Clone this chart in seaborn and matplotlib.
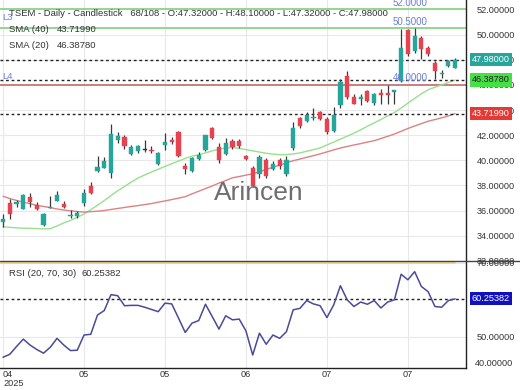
import numpy as np
import pandas as pd
import seaborn as sns
import matplotlib.pyplot as plt

# daily bars (68 visible of 108)
opens = [35.10, 36.59, 36.51, 36.14, 37.11, 36.41, 34.84, 36.22, 36.80, 36.49,
         35.58, 35.55, 36.59, 37.98, 39.15, 39.41, 39.02, 41.63, 41.84, 40.51,
         40.72, 40.85, 40.85, 39.73, 41.19, 41.63, 42.29, 39.55, 39.15, 40.14,
         40.80, 42.60, 41.06, 40.51, 41.55, 41.55, 40.33, 39.41, 38.94, 40.06,
         39.28, 40.06, 38.89, 40.98, 43.33, 43.12, 43.37, 43.86, 43.28, 42.34,
         44.40, 46.73, 45.04, 44.90, 45.51, 44.56, 45.35, 45.33, 45.43, 46.34,
         50.39, 48.69, 49.74, 48.90, 47.70, 46.85, 47.51, 47.32]
highs = [35.70, 36.93, 36.85, 37.30, 37.37, 36.67, 35.80, 37.20, 37.53, 36.74,
         36.02, 35.96, 37.71, 38.29, 40.33, 40.25, 42.86, 42.29, 42.02, 41.24,
         41.24, 41.63, 41.11, 40.65, 42.16, 41.82, 42.35, 39.80, 40.25, 40.64,
         42.05, 42.68, 41.37, 41.76, 41.71, 41.71, 40.46, 39.57, 40.41, 40.20,
         39.96, 40.22, 40.33, 43.02, 43.45, 43.86, 44.17, 43.90, 43.47, 44.25,
         46.45, 47.07, 45.29, 45.29, 45.60, 45.35, 45.69, 46.02, 45.60, 50.45,
         50.45, 50.50, 49.87, 49.08, 47.90, 47.18, 48.00, 48.10]
lows = [34.70, 35.36, 36.27, 36.10, 36.27, 36.02, 34.80, 36.20, 36.74, 36.22,
        35.44, 35.41, 36.33, 37.32, 39.10, 39.36, 38.57, 41.37, 40.93, 40.45,
        40.59, 40.67, 40.59, 39.65, 40.85, 41.29, 40.30, 38.94, 39.10, 40.04,
        40.72, 41.71, 39.80, 40.45, 40.93, 40.98, 40.06, 37.85, 38.63, 38.60,
        39.20, 39.30, 38.76, 40.85, 42.60, 43.02, 43.20, 43.20, 42.08, 42.29,
        44.20, 44.90, 44.45, 44.38, 44.65, 44.36, 44.45, 44.45, 44.50, 46.21,
        48.30, 48.50, 48.04, 48.30, 46.47, 46.55, 47.45, 47.32]
closes = [35.35, 35.70, 36.67, 37.27, 36.67, 36.10, 35.75, 36.30, 37.27, 36.27,
          35.67, 35.83, 37.37, 37.37, 39.47, 39.98, 42.08, 41.90, 41.11, 41.04,
          41.11, 40.85, 40.72, 40.59, 41.45, 41.43, 40.38, 39.33, 40.20, 40.45,
          42.02, 41.76, 40.06, 41.37, 41.04, 41.11, 40.14, 37.98, 40.25, 38.76,
          39.73, 39.55, 40.06, 42.55, 42.73, 43.59, 43.47, 43.28, 42.29, 43.59,
          46.24, 45.04, 44.51, 45.04, 44.72, 45.24, 45.16, 45.22, 45.56, 48.96,
          48.49, 49.87, 48.82, 48.49, 47.07, 46.95, 47.90, 47.98]

sma20 = [34.71, 34.67, 34.63, 34.60, 34.59, 34.57, 34.55, 34.56, 34.78, 35.02,
         35.22, 35.47, 35.73, 36.07, 36.43, 36.80, 37.19, 37.58, 37.92, 38.27,
         38.59, 38.84, 39.07, 39.29, 39.52, 39.73, 39.94, 40.15, 40.33, 40.44,
         40.59, 40.75, 40.88, 40.98, 41.02, 40.95, 40.85, 40.75, 40.66, 40.56,
         40.49, 40.45, 40.45, 40.51, 40.59, 40.72, 40.85, 40.99, 41.22, 41.45,
         41.69, 41.92, 42.16, 42.42, 42.71, 42.98, 43.25, 43.53, 43.80, 44.16,
         44.55, 44.92, 45.29, 45.61, 45.81, 46.00, 46.19, 46.3878]
sma40 = [37.14, 36.96, 36.81, 36.67, 36.55, 36.42, 36.33, 36.24, 36.13, 36.05,
         35.98, 35.93, 35.88, 35.92, 35.95, 36.01, 36.09, 36.17, 36.25, 36.33,
         36.40, 36.48, 36.56, 36.67, 36.77, 36.88, 36.99, 37.11, 37.33, 37.54,
         37.75, 37.96, 38.19, 38.39, 38.61, 38.71, 38.82, 38.93, 39.10, 39.27,
         39.45, 39.62, 39.80, 39.97, 40.10, 40.24, 40.37, 40.51, 40.67, 40.83,
         40.98, 41.10, 41.22, 41.33, 41.45, 41.56, 41.73, 41.91, 42.09, 42.31,
         42.53, 42.73, 42.92, 43.11, 43.24, 43.38, 43.53, 43.7199]
rsi = [44.5, 45.3, 47.4, 49.4, 47.8, 46.6, 45.6, 47.2, 49.6, 47.8,
       46.3, 46.4, 50.5, 50.7, 55.9, 57.1, 61.4, 61.1, 58.4, 58.5,
       58.5, 58.0, 57.4, 56.8, 59.1, 58.9, 55.1, 51.2, 53.7, 54.4,
       58.8, 55.5, 52.1, 55.7, 54.6, 54.8, 51.6, 45.1, 51.0, 48.0,
       50.5, 49.6, 51.4, 57.3, 57.7, 59.8, 58.9, 58.4, 55.2, 58.6,
       63.8, 60.0, 58.2, 59.4, 58.8, 59.8, 57.8, 59.4, 60.0, 66.9,
       65.4, 67.6, 63.6, 62.2, 58.2, 58.0, 59.8, 60.25382]

tick_pos = [0, 12, 24, 36, 48, 60]
tick_labels = ["04\n2025", "05", "05", "06", "07", "07"]
levels = [52.0, 50.5, 46.0]
level_names = ["52.0000", "50.5000", "46.0000"]

UP = "#26a69a"
DOWN = "#e8414f"
TXT = "#333333"
FS = 6.8     # header / legend text
TFS = 6.6    # axis labels

df = pd.DataFrame({"bar": np.arange(len(closes)), "open": opens, "high": highs,
                   "low": lows, "close": closes, "sma20": sma20, "sma40": sma40,
                   "rsi": rsi})

sns.set_theme(style="whitegrid")
plt.rcParams["font.family"] = ["Liberation Sans", "DejaVu Sans"]
plt.rcParams["grid.color"] = "#e8e8e8"
plt.rcParams["grid.linewidth"] = 0.8

fig = plt.figure(figsize=(5.2, 3.9), dpi=100)
ax = fig.add_axes([0, 0.331, 0.896, 0.669])
ax2 = fig.add_axes([0, 0.0564, 0.896, 0.2746], sharex=ax)
for a in (ax, ax2):
    a.set_facecolor("white")

# candles
for r in df.itertuples():
    if r.close > r.open:
        col = UP
    elif r.close < r.open:
        col = DOWN
    else:
        col = "#333333"
    ax.vlines(r.bar, r.low, r.high, color="#3a3a3a", lw=0.9, zorder=3)
    h = max(abs(r.close - r.open), 0.05)
    ax.bar(r.bar, h, bottom=min(r.open, r.close), width=0.62, color=col,
           edgecolor=col, lw=0.3, zorder=4)

sns.lineplot(data=df, x="bar", y="sma20", ax=ax, color="#98e090", lw=1.0, zorder=2)
sns.lineplot(data=df, x="bar", y="sma40", ax=ax, color="#dc8282", lw=1.0, zorder=2)

# horizontal levels
for lv, name, c in zip(levels, level_names, ["#92d692", "#92d692", "#c98080"]):
    ax.axhline(lv, color=c, lw=1.4, zorder=1)
    ax.text(57.7, lv + 0.12, name, color="#6a7fd6", fontsize=TFS + 0.4,
            va="bottom", zorder=6)
ax.text(-0.1, 51.35, "L3", color="#6a7fd6", fontsize=FS, va="center", zorder=6)
ax.text(-0.1, 46.7, "L4", color="#6a7fd6", fontsize=FS, va="center", zorder=6)

for v in (closes[-1], sma20[-1], sma40[-1]):
    ax.axhline(v, color="#222222", lw=1.0, ls=(0, (2, 2)), zorder=2)

ax.set_xlim(-0.45, 68.6)
ax.set_ylim(32.0, 52.75)
ax.set_yticks(np.arange(32, 53, 2))
ax.set_yticklabels([f"{v:.5f}" for v in np.arange(32, 53, 2)])
ax.yaxis.tick_right()
ax.tick_params(axis="y", length=0, pad=8, labelsize=TFS, colors=TXT)
ax.tick_params(axis="x", length=0, labelbottom=False)
ax.set_xlabel("")
ax.set_ylabel("")
for s in ("top", "left", "bottom"):
    ax.spines[s].set_visible(False)
ax.spines["right"].set_color("#222222")
ax.spines["right"].set_linewidth(1.0)

# value boxes on the price axis
for v, txt, bg, fg in [(closes[-1], "47.98000", UP, "white"),
                       (sma20[-1], "46.38780", "#45e045", "#222222"),
                       (sma40[-1], "43.71990", "#e53935", "white")]:
    ax.text(69.5, v, txt, fontsize=TFS, color=fg, va="center", ha="left",
            bbox=dict(boxstyle="square,pad=0.22", fc=bg, ec="none"),
            zorder=10, clip_on=False)

ax.text(0.555, 0.26, "Arincen", transform=ax.transAxes, fontsize=19,
        color="#6e6e6e", ha="center", va="center", zorder=5)

# RSI panel
ax2.axhline(70, xmin=0, xmax=(67 + 0.45) / 69.05, color="#f5d48a", lw=1.4, zorder=1)
sns.lineplot(data=df, x="bar", y="rsi", ax=ax2, color="#4a4a98", lw=1.1, zorder=3)
ax2.axhline(rsi[-1], color="#222222", lw=1.0, ls=(0, (2, 2)), zorder=2)
ax2.set_ylim(41.6, 70.5)
ax2.set_yticks([50, 70])
ax2.set_yticklabels(["50.00000", "70.00000"])
ax2.yaxis.tick_right()
ax2.tick_params(axis="y", length=0, pad=8, labelsize=TFS, colors=TXT)
ax2.set_xticks(tick_pos)
ax2.set_xticklabels(tick_labels, linespacing=0.95)
ax2.tick_params(axis="x", length=0, pad=1.5, labelsize=TFS, colors=TXT)
ax2.get_xticklabels()[0].set_horizontalalignment("left")
ax2.set_xlabel("")
ax2.set_ylabel("")
for s in ("top", "left"):
    ax2.spines[s].set_visible(False)
for s in ("right", "bottom"):
    ax2.spines[s].set_color("#222222")
    ax2.spines[s].set_linewidth(1.0)
ax2.text(69.5, rsi[-1], f"{rsi[-1]:.5f}", fontsize=TFS, color="white",
         va="center", ha="left",
         bbox=dict(boxstyle="square,pad=0.22", fc="#1010c0", ec="none"),
         zorder=10, clip_on=False)
ax2.text(1.0195, 0.04, "40.00000", transform=ax2.transAxes, fontsize=TFS,
         color=TXT, va="center", ha="left")

# panel separator
fig.add_artist(plt.Line2D([0, 1], [0.331, 0.331], color="#444444", lw=1.0))

# header texts
fig.text(9 / 520, 1 - 13 / 390,
         "TSEM - Daily - Candlestick   68/108 - O:47.32000 - H:48.10000 - L:47.32000 - C:47.98000",
         fontsize=FS, color=TXT, va="center")
fig.text(9 / 520, 1 - 29 / 390, "SMA (40)", fontsize=FS, color=TXT, va="center")
fig.text(57 / 520, 1 - 29 / 390, "43.71990", fontsize=FS, color=TXT, va="center")
fig.text(9 / 520, 1 - 45.5 / 390, "SMA (20)", fontsize=FS, color=TXT, va="center")
fig.text(57 / 520, 1 - 45.5 / 390, "46.38780", fontsize=FS, color=TXT, va="center")
fig.text(9 / 520, 1 - 273 / 390, "RSI (20, 70, 30)", fontsize=FS, color=TXT, va="center")
fig.text(82 / 520, 1 - 273 / 390, "60.25382", fontsize=FS, color=TXT, va="center")

fig.savefig("out.png", dpi=100)
